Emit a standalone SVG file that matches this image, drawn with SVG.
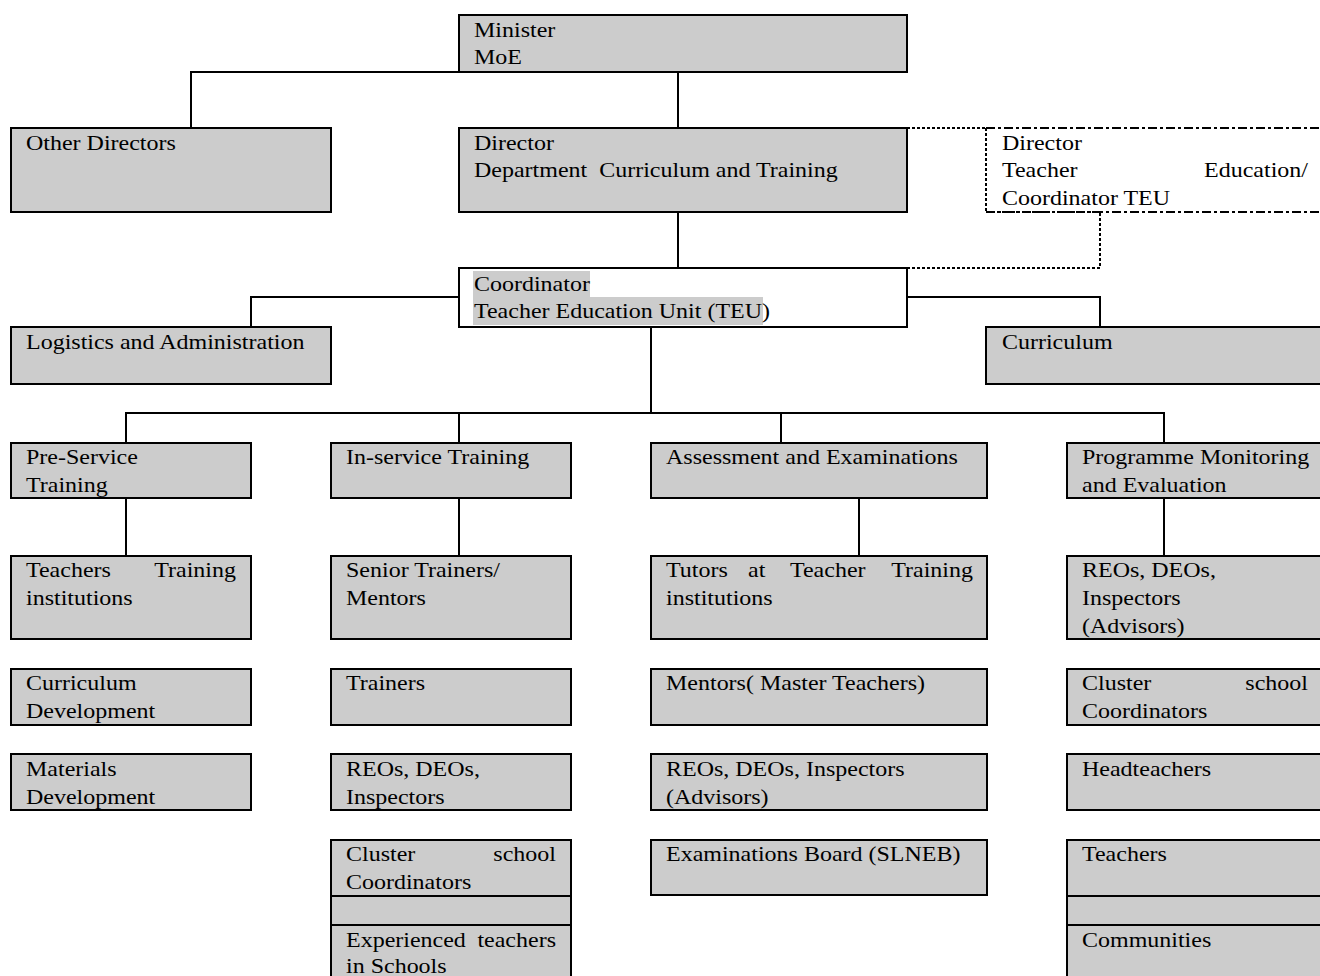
<svg xmlns="http://www.w3.org/2000/svg" width="1320" height="976" viewBox="0 0 1320 976">
<style>
.b{fill:#cccccc;stroke:#000;stroke-width:2}
.w{fill:#fff;stroke:#000;stroke-width:2}
.t{font-family:"Liberation Serif","Times New Roman",serif;font-size:20px;fill:#000}
.e{text-anchor:end}
.c{fill:none;stroke:#000;stroke-width:2}
.d{fill:none;stroke:#000;stroke-width:2;stroke-dasharray:3,2}
.dd{fill:none;stroke:#000;stroke-width:2;stroke-dasharray:9,3,3,3}
.hl{fill:#cccccc}
</style>
<rect width="1320" height="976" fill="#fff"/>
<g id="connectors">
<path class="c" d="M678,72V128M459,72H191V128M678,212V268"/>
<path class="d" d="M907,128H986M907,268H1100V212"/>
<path class="c" d="M459,297H251V327M907,297H1100V327"/>
<path class="c" d="M651,327V413M126,443V413H1164V443M459,413V443M781,413V443"/>
<path class="c" d="M126,498V556M459,498V556M859,498V556M1164,498V556"/>
</g>
<g id="minister"><rect class="b" x="459" y="15" width="448" height="57"/><g transform="scale(1.2,1)"><text class="t" x="395" y="37">Minister</text><text class="t" x="395" y="64">MoE</text></g></g>
<g id="other-directors"><rect class="b" x="11" y="128" width="320" height="84"/><g transform="scale(1.2,1)"><text class="t" x="21.67" y="150">Other Directors</text></g></g>
<g id="director-dct"><rect class="b" x="459" y="128" width="448" height="84"/><g transform="scale(1.2,1)"><text class="t" x="395" y="150">Director</text><text class="t" x="395" y="177" xml:space="preserve">Department  Curriculum and Training</text></g></g>
<g id="director-te"><path class="dd" d="M986,128H1322M986,212H1322"/><path class="d" d="M986,128V212H1100"/><g transform="scale(1.2,1)"><text class="t" x="835" y="150">Director</text><text class="t" x="835" y="177">Teacher</text><text class="t e" x="1090" y="177">Education/</text><text class="t" x="835" y="205">Coordinator TEU</text></g></g>
<g id="coordinator"><rect class="w" x="459" y="268" width="448" height="59"/><rect class="hl" x="473" y="271" width="117" height="26"/><rect class="hl" x="473" y="297" width="290" height="28"/><g transform="scale(1.2,1)"><text class="t" x="395" y="291">Coordinator</text><text class="t" x="395" y="318">Teacher Education Unit (TEU)</text></g></g>
<g id="logistics"><rect class="b" x="11" y="327" width="320" height="57"/><g transform="scale(1.2,1)"><text class="t" x="21.67" y="349">Logistics and Administration</text></g></g>
<g id="curriculum"><rect class="b" x="986" y="327" width="336" height="57"/><g transform="scale(1.2,1)"><text class="t" x="835" y="349">Curriculum</text></g></g>
<g id="pre-service"><rect class="b" x="11" y="443" width="240" height="55"/><g transform="scale(1.2,1)"><text class="t" x="21.67" y="464">Pre-Service</text><text class="t" x="21.67" y="492">Training</text></g></g>
<g id="in-service"><rect class="b" x="331" y="443" width="240" height="55"/><g transform="scale(1.2,1)"><text class="t" x="288.33" y="464">In-service Training</text></g></g>
<g id="assessment"><rect class="b" x="651" y="443" width="336" height="55"/><g transform="scale(1.2,1)"><text class="t" x="555" y="464">Assessment and Examinations</text></g></g>
<g id="monitoring"><rect class="b" x="1067" y="443" width="255" height="55"/><g transform="scale(1.2,1)"><text class="t" x="901.67" y="464">Programme Monitoring</text><text class="t" x="901.67" y="492">and Evaluation</text></g></g>
<g id="tti"><rect class="b" x="11" y="556" width="240" height="83"/><g transform="scale(1.2,1)"><text class="t" x="21.67" y="577">Teachers</text><text class="t e" x="196.67" y="577">Training</text><text class="t" x="21.67" y="605">institutions</text></g></g>
<g id="senior-trainers"><rect class="b" x="331" y="556" width="240" height="83"/><g transform="scale(1.2,1)"><text class="t" x="288.33" y="577">Senior Trainers/</text><text class="t" x="288.33" y="605">Mentors</text></g></g>
<g id="tutors"><rect class="b" x="651" y="556" width="336" height="83"/><g transform="scale(1.2,1)"><text class="t" x="555" y="577">Tutors</text><text class="t" x="623.33" y="577">at</text><text class="t" x="658.33" y="577">Teacher</text><text class="t e" x="810.83" y="577">Training</text><text class="t" x="555" y="605">institutions</text></g></g>
<g id="reos-pme"><rect class="b" x="1067" y="556" width="255" height="83"/><g transform="scale(1.2,1)"><text class="t" x="901.67" y="577">REOs, DEOs,</text><text class="t" x="901.67" y="605">Inspectors</text><text class="t" x="901.67" y="633">(Advisors)</text></g></g>
<g id="curr-dev"><rect class="b" x="11" y="669" width="240" height="56"/><g transform="scale(1.2,1)"><text class="t" x="21.67" y="690">Curriculum</text><text class="t" x="21.67" y="718">Development</text></g></g>
<g id="trainers"><rect class="b" x="331" y="669" width="240" height="56"/><g transform="scale(1.2,1)"><text class="t" x="288.33" y="690">Trainers</text></g></g>
<g id="mentors"><rect class="b" x="651" y="669" width="336" height="56"/><g transform="scale(1.2,1)"><text class="t" x="555" y="690">Mentors( Master Teachers)</text></g></g>
<g id="cluster-pme"><rect class="b" x="1067" y="669" width="255" height="56"/><g transform="scale(1.2,1)"><text class="t" x="901.67" y="690">Cluster</text><text class="t e" x="1090" y="690">school</text><text class="t" x="901.67" y="718">Coordinators</text></g></g>
<g id="materials"><rect class="b" x="11" y="754" width="240" height="56"/><g transform="scale(1.2,1)"><text class="t" x="21.67" y="776">Materials</text><text class="t" x="21.67" y="804">Development</text></g></g>
<g id="reos-ist"><rect class="b" x="331" y="754" width="240" height="56"/><g transform="scale(1.2,1)"><text class="t" x="288.33" y="776">REOs, DEOs,</text><text class="t" x="288.33" y="804">Inspectors</text></g></g>
<g id="reos-ae"><rect class="b" x="651" y="754" width="336" height="56"/><g transform="scale(1.2,1)"><text class="t" x="555" y="776">REOs, DEOs, Inspectors</text><text class="t" x="555" y="804">(Advisors)</text></g></g>
<g id="headteachers"><rect class="b" x="1067" y="754" width="255" height="56"/><g transform="scale(1.2,1)"><text class="t" x="901.67" y="776">Headteachers</text></g></g>
<g id="cluster-ist"><rect class="b" x="331" y="840" width="240" height="56"/><g transform="scale(1.2,1)"><text class="t" x="288.33" y="861">Cluster</text><text class="t e" x="463.33" y="861">school</text><text class="t" x="288.33" y="889">Coordinators</text></g></g>
<g id="slneb"><rect class="b" x="651" y="840" width="336" height="55"/><g transform="scale(1.2,1)"><text class="t" x="555" y="861">Examinations Board (SLNEB)</text></g></g>
<g id="teachers"><rect class="b" x="1067" y="840" width="255" height="56"/><g transform="scale(1.2,1)"><text class="t" x="901.67" y="861">Teachers</text></g></g>
<g id="blank-ist"><rect class="b" x="331" y="896" width="240" height="29"/></g>
<g id="blank-pme"><rect class="b" x="1067" y="896" width="255" height="29"/></g>
<g id="experienced"><rect class="b" x="331" y="925" width="240" height="60"/><g transform="scale(1.2,1)"><text class="t" x="288.33" y="947">Experienced</text><text class="t e" x="463.33" y="947">teachers</text><text class="t" x="288.33" y="973">in Schools</text></g></g>
<g id="communities"><rect class="b" x="1067" y="925" width="255" height="60"/><g transform="scale(1.2,1)"><text class="t" x="901.67" y="947">Communities</text></g></g>
</svg>
